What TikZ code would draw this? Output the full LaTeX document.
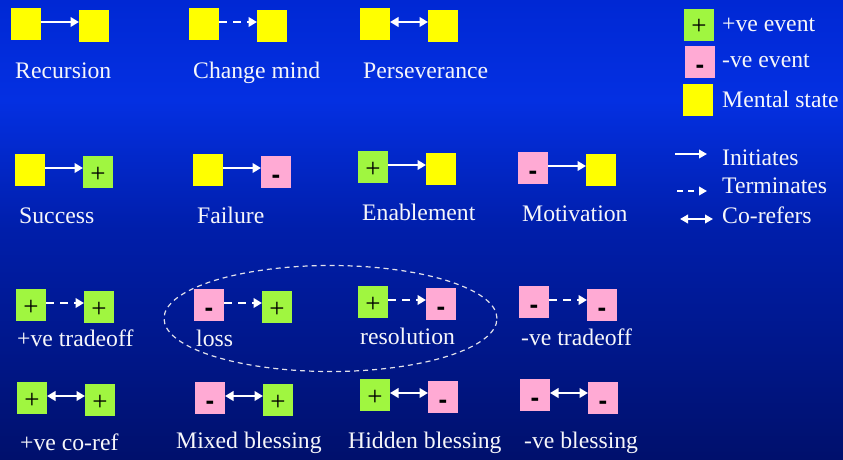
\documentclass[tikz,border=0pt]{standalone}
\usepackage{fontspec}
\setmainfont{Liberation Serif}
\newfontfamily\symsans{Liberation Sans}
\usetikzlibrary{arrows.meta,shapes.geometric}
\definecolor{bgtop}{RGB}{0,40,212}
\definecolor{bgmid}{RGB}{4,48,226}
\definecolor{bglow}{RGB}{0,30,170}
\definecolor{bgbot}{RGB}{0,16,108}
\definecolor{msyellow}{RGB}{255,255,0}
\definecolor{evgreen}{RGB}{160,246,64}
\definecolor{evpink}{RGB}{255,170,212}
\definecolor{txtwhite}{RGB}{246,246,250}
\definecolor{ellgray}{RGB}{225,225,235}
\newcommand\plussym{\raisebox{-10pt}[0pt][0pt]{\fontsize{27}{28}\selectfont +}}
\newcommand\minussym{\raisebox{-11.8pt}[0pt][0pt]{\fontsize{26}{28}\symsans\bfseries -}}
\begin{document}
\begin{tikzpicture}[x=1pt,y=-1pt,
  evbox/.style={minimum width=30pt,minimum height=32pt,inner sep=0pt,outer sep=0pt,text=black},
  msbox/.style={evbox,fill=msyellow},
  posbox/.style={evbox,fill=evgreen},
  negbox/.style={evbox,fill=evpink},
  lbl/.style={text=txtwhite,font=\fontsize{23.7}{28}\selectfont,inner sep=0pt,anchor=base west},
  conn/.style={draw=white,line width=2.5pt,transform canvas={yshift=2pt}},
  initarr/.style={conn,-{Triangle[length=8.5pt,width=9.5pt]}},
  termarr/.style={conn,dash pattern=on 8pt off 6pt,-{Triangle[length=8.5pt,width=9.5pt]}},
  corefarr/.style={conn,{Triangle[length=8.5pt,width=9.5pt]}-{Triangle[length=8.5pt,width=9.5pt]}},
  lgarrow/.style={draw=white,line width=2.3pt},
]
% background
\useasboundingbox (0,0) rectangle (843,460);
\shade[top color=bgtop,bottom color=bgmid] (0,0) rectangle (843,100.5);
\shade[top color=bgmid,bottom color=bglow] (0,100) rectangle (843,230.5);
\shade[top color=bglow,bottom color=bgbot] (0,230) rectangle (843,460);

% ---- row 1
\node[msbox] (r1a) at (26,24) {};
\node[msbox] (r1b) at (94,26) {};
\draw[initarr] (r1a.east) -- (r1a.east -| r1b.west);
\node[lbl] (t1a) at (15,78) {Recursion};

\node[msbox] (c1a) at (204,24) {};
\node[msbox] (c1b) at (272,26) {};
\draw[termarr] (c1a.east) -- (c1a.east -| c1b.west);
\node[lbl] (t1b) at (193,78) {Change mind};

\node[msbox] (p1a) at (375,24) {};
\node[msbox] (p1b) at (443,26) {};
\draw[corefarr] (p1a.east) -- (p1a.east -| p1b.west);
\node[lbl] (t1c) at (363,78) {Perseverance};

% ---- row 2
\node[msbox] (s2a) at (30,170) {};
\node[posbox] (s2b) at (98,172) {\plussym};
\draw[initarr] (s2a.east) -- (s2a.east -| s2b.west);
\node[lbl] (t2a) at (19,223) {Success};

\node[msbox] (f2a) at (208,170) {};
\node[negbox] (f2b) at (276,172) {\minussym};
\draw[initarr] (f2a.east) -- (f2a.east -| f2b.west);
\node[lbl] (t2b) at (197,223) {Failure};

\node[posbox] (e2a) at (373,167) {\plussym};
\node[msbox] (e2b) at (441,169) {};
\draw[initarr] (e2a.east) -- (e2a.east -| e2b.west);
\node[lbl] (t2c) at (362,220) {Enablement};

\node[negbox] (m2a) at (533,168) {\minussym};
\node[msbox] (m2b) at (601,170) {};
\draw[initarr] (m2a.east) -- (m2a.east -| m2b.west);
\node[lbl] (t2d) at (522,221) {Motivation};

% ---- legend
\node[posbox] (lg1) at (699,25) {\plussym};
\node[lbl] (lt1) at (722,32) {+ve event};
\node[negbox] (lg2) at (700,62) {\minussym};
\node[lbl] (lt2) at (722,67) {-ve event};
\node[msbox] (lg3) at (698,100) {};
\node[lbl] (lt3) at (722,107) {Mental state};

\coordinate (la1) at (675,154);
\coordinate (lb1) at (707,154);
\draw[lgarrow,-{Triangle[length=8pt,width=8.5pt]}] (la1) -- (lb1);
\node[lbl] (lt4) at (722,165) {Initiates};
\coordinate (la2) at (677,191);
\coordinate (lb2) at (707,191);
\draw[lgarrow,dash pattern=on 6pt off 5pt,-{Triangle[length=8pt,width=8.5pt]}] (la2) -- (lb2);
\node[lbl] (lt5) at (722,193) {Terminates};
\coordinate (la3) at (680,219);
\coordinate (lb3) at (713,219);
\draw[lgarrow,{Triangle[length=8pt,width=8.5pt]}-{Triangle[length=8pt,width=8.5pt]}] (la3) -- (lb3);
\node[lbl] (lt6) at (722,223) {Co-refers};

% ---- row 3
\node[draw=ellgray,line width=1.2pt,dash pattern=on 5pt off 4pt,ellipse,inner sep=0pt,
  minimum width=333pt,minimum height=106pt] (grp) at (330.5,318.5) {};

\node[posbox] (t3a) at (31,305) {\plussym};
\node[posbox] (t3b) at (99,307) {\plussym};
\draw[termarr] (t3a.east) -- (t3a.east -| t3b.west);
\node[lbl] (t3l) at (17,346) {+ve tradeoff};

\node[negbox] (l3a) at (209,305) {\minussym};
\node[posbox] (l3b) at (277,307) {\plussym};
\draw[termarr] (l3a.east) -- (l3a.east -| l3b.west);
\node[lbl] (l3l) at (196,346.5) {loss};

\node[posbox] (v3a) at (373,302) {\plussym};
\node[negbox] (v3b) at (441,304) {\minussym};
\draw[termarr] (v3a.east) -- (v3a.east -| v3b.west);
\node[lbl] (v3l) at (360,344) {resolution};

\node[negbox] (n3a) at (534,302) {\minussym};
\node[negbox] (n3b) at (602,305) {\minussym};
\draw[termarr] (n3a.east) -- (n3a.east -| n3b.west);
\node[lbl] (n3l) at (521,345) {-ve tradeoff};

% ---- row 4
\node[posbox] (b4a) at (32,398) {\plussym};
\node[posbox] (b4b) at (100,400) {\plussym};
\draw[corefarr] (b4a.east) -- (b4a.east -| b4b.west);
\node[lbl] (b4l) at (20,450) {+ve co-ref};

\node[negbox] (x4a) at (210,398) {\minussym};
\node[posbox] (x4b) at (278,400) {\plussym};
\draw[corefarr] (x4a.east) -- (x4a.east -| x4b.west);
\node[lbl] (x4l) at (176,448) {Mixed blessing};

\node[posbox] (h4a) at (375,395) {\plussym};
\node[negbox] (h4b) at (443,397) {\minussym};
\draw[corefarr] (h4a.east) -- (h4a.east -| h4b.west);
\node[lbl] (h4l) at (348,448) {Hidden blessing};

\node[negbox] (w4a) at (535,395) {\minussym};
\node[negbox] (w4b) at (603,398) {\minussym};
\draw[corefarr] (w4a.east) -- (w4a.east -| w4b.west);
\node[lbl] (w4l) at (524,448) {-ve blessing};
\end{tikzpicture}
\end{document}
